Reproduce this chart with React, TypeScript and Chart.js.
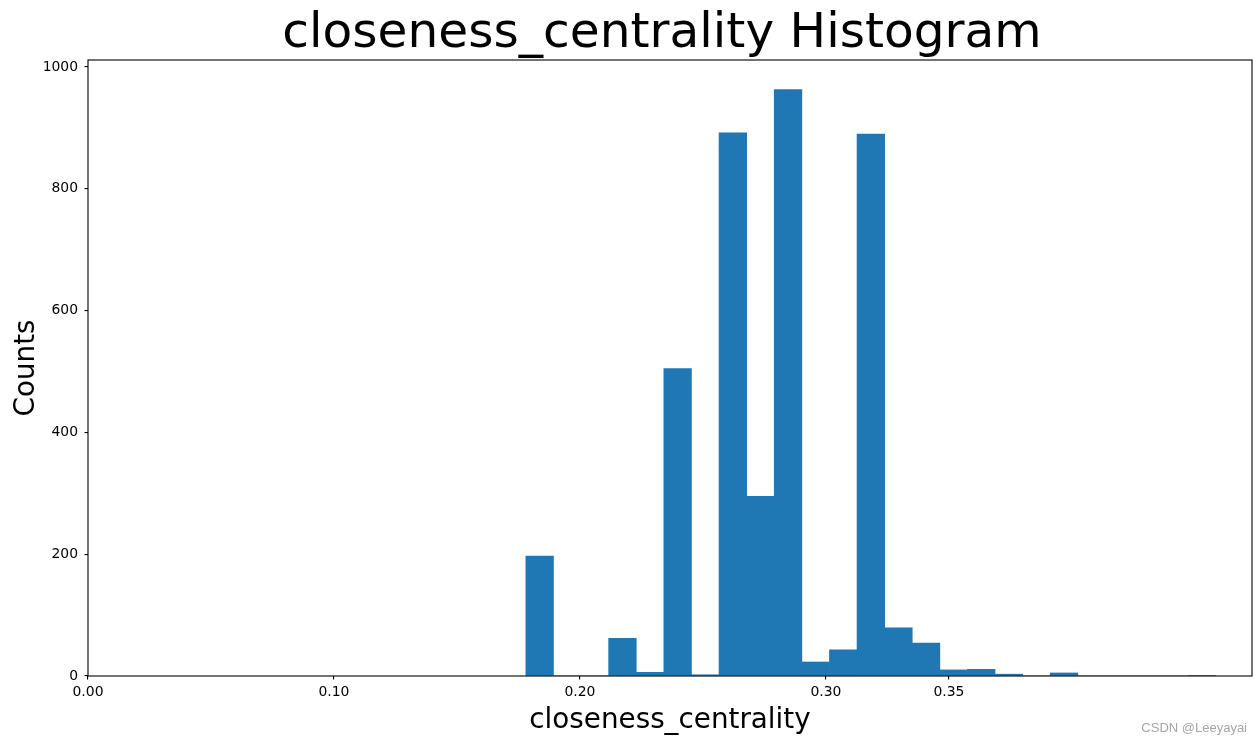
import React, { useEffect, useRef } from "react";
import { Chart, registerables } from "chart.js";

Chart.register(...registerables);

// ---- data ----
const TITLE = "closeness_centrality Histogram";
const X_LABEL = "closeness_centrality";
const Y_LABEL = "Counts";
const WATERMARK = "CSDN @Leeyayai";

// histogram: 25 equal bins between data min and max
const dataMin = 0.178;
const dataMax = 0.4585;
const binCounts = [
  197, 0, 0, 62, 6, 505, 2, 892, 295, 963,
  23, 43, 890, 79, 54, 10, 11, 3, 0, 5,
  0, 0, 0, 0, 1,
];
const xTicks = [0.0, 0.1, 0.2, 0.3, 0.35];
const yTicks = [0, 200, 400, 600, 800, 1000];
const xMax = 0.4732;
const yMax = 1011.5;

const BAR_COLOR = "#1f77b4";
const FONT = '"DejaVu Sans", sans-serif';

const mplText = {
  id: "mplText",
  afterDraw(chart: any) {
    const { ctx, chartArea } = chart;
    const { left, right, top, bottom } = chartArea;
    ctx.save();
    ctx.strokeStyle = "#000";
    ctx.lineWidth = 1.1;
    ctx.strokeRect(left, top, right - left, bottom - top);

    ctx.fillStyle = "#000";
    ctx.textAlign = "center";
    ctx.textBaseline = "alphabetic";
    ctx.font = `48.6px ${FONT}`;
    ctx.fillText(TITLE, (left + right) / 2 - 8, 47);

    ctx.font = `27.8px ${FONT}`;
    ctx.fillText(X_LABEL, (left + right) / 2, 727.5);

    ctx.save();
    ctx.translate(33.5, (top + bottom) / 2);
    ctx.rotate(-Math.PI / 2);
    ctx.fillText(Y_LABEL, 0, 0);
    ctx.restore();

    ctx.font = '13px "Liberation Sans", Arial, sans-serif';
    ctx.textAlign = "right";
    ctx.fillStyle = "#a6a6a6";
    ctx.fillText(WATERMARK, 1247, 732);
    ctx.restore();
  },
};

export default function App() {
  const ref = useRef<HTMLCanvasElement | null>(null);

  useEffect(() => {
    document.body.style.margin = "0";
    const canvas = ref.current;
    if (!canvas) return;
    const w = (dataMax - dataMin) / binCounts.length;
    const points = binCounts.map((c, i) => ({ x: dataMin + (i + 0.5) * w, y: c }));

    const chart = new Chart(canvas, {
      type: "bar",
      data: {
        datasets: [
          {
            data: points as any,
            backgroundColor: BAR_COLOR,
            borderWidth: 0,
            barPercentage: 1,
            categoryPercentage: 1,
          },
        ],
      },
      options: {
        responsive: false,
        animation: false,
        layout: { padding: { top: 60, right: 8, left: 0, bottom: 0 } },
        plugins: {
          legend: { display: false },
          tooltip: { enabled: false },
          title: { display: false },
        },
        scales: {
          x: {
            type: "linear",
            min: 0,
            max: xMax,
            offset: false,
            afterFit: (s: any) => {
              s.height = 68;
            },
            afterBuildTicks: (s: any) => {
              s.ticks = xTicks.map((v) => ({ value: v }));
            },
            grid: {
              display: true,
              offset: false,
              drawOnChartArea: false,
              drawTicks: true,
              tickLength: 3.5,
              color: "#000",
              lineWidth: 1.1,
            },
            border: { display: false },
            ticks: {
              color: "#000",
              font: { family: FONT, size: 13.9 },
              padding: 5,
              maxRotation: 0,
              autoSkip: false,
              callback: (v: any) => Number(v).toFixed(2),
            },
          },
          y: {
            type: "linear",
            min: 0,
            max: yMax,
            afterFit: (s: any) => {
              s.width = 88;
            },
            afterBuildTicks: (s: any) => {
              s.ticks = yTicks.map((v) => ({ value: v }));
            },
            grid: {
              display: true,
              offset: false,
              drawOnChartArea: false,
              drawTicks: true,
              tickLength: 3.5,
              color: "#000",
              lineWidth: 1.1,
            },
            border: { display: false },
            ticks: {
              color: "#000",
              font: { family: FONT, size: 13.9 },
              padding: 6.5,
              callback: (v: any) => String(v),
            },
          },
        },
      },
      plugins: [mplText],
    });
    return () => chart.destroy();
  }, []);

  return (
    <div style={{ position: "absolute", left: 0, top: 0, width: 1260, height: 744, background: "#fff" }}>
      <canvas ref={ref} width={1260} height={744} style={{ display: "block" }} />
    </div>
  );
}
